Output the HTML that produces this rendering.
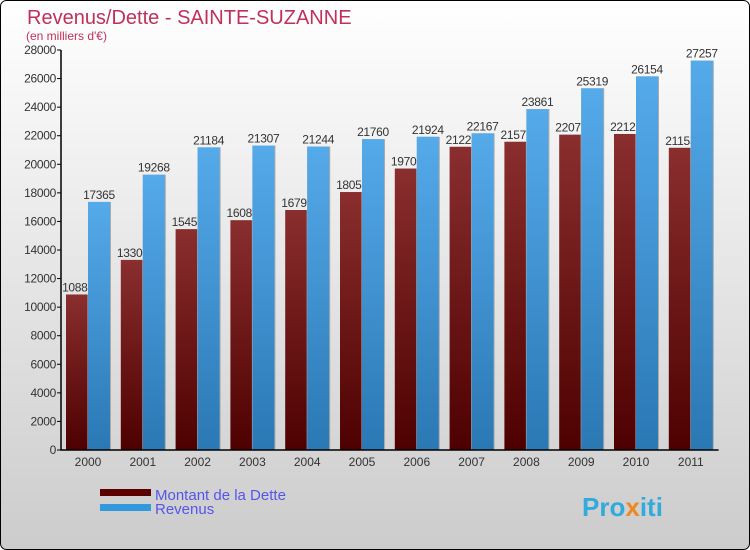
<!DOCTYPE html>
<html><head><meta charset="utf-8"><style>
body{margin:0;width:750px;height:550px;overflow:hidden}
svg{display:block}
text{font-family:"Liberation Sans",sans-serif}
</style></head><body>
<svg id="c" width="750" height="550">
<defs>
<linearGradient id="bg" x1="0" y1="0" x2="0" y2="1"><stop offset="0" stop-color="#ffffff"/><stop offset="1" stop-color="#cccccc"/></linearGradient>
<linearGradient id="gd" x1="0" y1="0" x2="0" y2="1"><stop offset="0" stop-color="#8a2e2e"/><stop offset="1" stop-color="#4e0000"/></linearGradient>
<linearGradient id="gr" x1="0" y1="0" x2="0" y2="1"><stop offset="0" stop-color="#55aaea"/><stop offset="1" stop-color="#2a78b4"/></linearGradient>
</defs>
<rect x="0.5" y="0.5" width="749" height="549" rx="6" fill="url(#bg)" stroke="#000"/>
<text x="27" y="24" font-size="20" fill="#c0305a">Revenus/Dette - SAINTE-SUZANNE</text>
<text x="26" y="40" font-size="12" fill="#c0305a">(en milliers d'€)</text>
<g id="plot"></g>
<g>
<rect x="100" y="489" width="51" height="7" fill="#5a0000"/>
<text x="155" y="500" font-size="15" fill="#5555ee">Montant de la Dette</text>
<rect x="100" y="504" width="51" height="7" fill="#3399dd"/>
<text x="155" y="514" font-size="15" fill="#5555ee">Revenus</text>
</g>
<text x="582" y="516" font-size="26" font-weight="bold" fill="#33aadd">Pro<tspan fill="#ee8822">x</tspan>iti</text>
</svg>
<script>
const years=["2000","2001","2002","2003","2004","2005","2006","2007","2008","2009","2010","2011"];
const dette=[10886,13306,15459,16085,16799,18057,19703,21224,21576,22073,22122,21153];
const revenus=[17365,19268,21184,21307,21244,21760,21924,22167,23861,25319,26154,27257];
const ticks=[0,2000,4000,6000,8000,10000,12000,14000,16000,18000,20000,22000,24000,26000,28000];
const NS="http://www.w3.org/2000/svg";
const g=document.getElementById('plot');
const x0=61,y0=450,gw=54.8,ymax=28000,ph=400;
const y=v=>y0-v/ymax*ph;
const xg=i=>x0+i*gw;
function mk(t,a,txt){const e=document.createElementNS(NS,t);for(const k in a)e.setAttribute(k,a[k]);if(txt!==undefined)e.textContent=txt;g.appendChild(e);return e;}
ticks.forEach(t=>{
 const l=mk('line',{x1:x0-4,x2:x0,y1:y(t),y2:y(t),stroke:'#000'});
 
 
 const tx=mk('text',{x:x0-5,y:y(t)+4,'font-size':12,'text-anchor':'end',fill:'#333','letter-spacing':'-0.3'},String(t));
 
 
});
years.forEach((yr,i)=>{
 const dx=xg(i)+5;
 const s1=mk('rect',{x:dx+1,y:y(dette[i]),width:22,height:y0-y(dette[i]),fill:'#999','opacity':0.6});
 
 
 const b=mk('rect',{x:dx,y:y(dette[i]),width:21.5,height:y0-y(dette[i]),fill:'url(#gd)'});
 
 
 const lt=mk('text',{x:dx+12,y:y(dette[i])-3,'font-size':12,'text-anchor':'middle',fill:'#333','letter-spacing':'-0.3'},String(dette[i]));
 
 
});
years.forEach((yr,i)=>{
 const rx=xg(i)+27;
 const s2=mk('rect',{x:rx,y:y(revenus[i]),width:23,height:y0-y(revenus[i]),fill:'#aaa'});
 
 
 const b=mk('rect',{x:rx,y:y(revenus[i]),width:22,height:y0-y(revenus[i]),fill:'url(#gr)'});
 
 
 const lt=mk('text',{x:rx+11,y:y(revenus[i])-3,'font-size':12,'text-anchor':'middle',fill:'#333','letter-spacing':'-0.3'},String(revenus[i]));
 
 
 const xl=mk('text',{x:xg(i)+27,y:y0+16,'font-size':12,'text-anchor':'middle',fill:'#333'},yr);
 
 
});
const ax=mk('path',{d:`M${x0} ${y(ymax)}V${y0}H${x0+12*gw}`,stroke:'#000',fill:'none','stroke-width':1.5});


</script>
</body></html>
